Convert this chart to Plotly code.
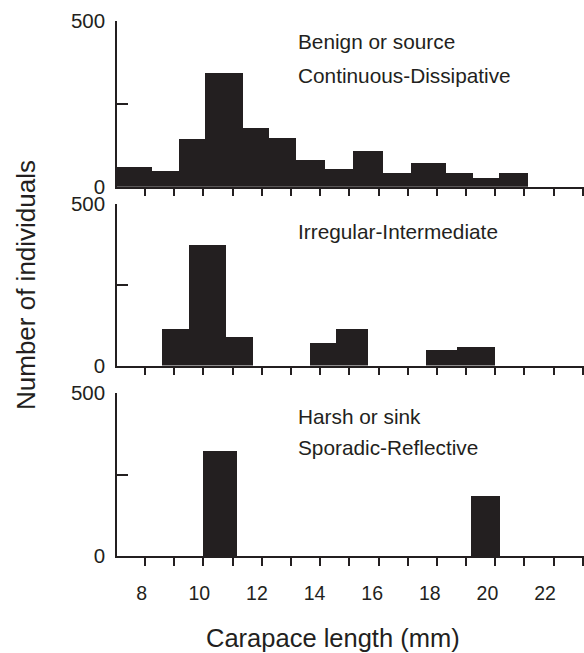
import plotly.graph_objects as go

INK = "#231f20"
FONT = "Liberation Sans, Arial, Helvetica, sans-serif"

# ---- data (bin edges in mm, counts of individuals) ----
top_left = [7.04, 8.24, 9.16, 10.05, 11.36, 12.25, 13.17, 14.16, 15.12, 16.15, 17.11, 18.31, 19.23, 20.12]
top_right = [8.24, 9.16, 10.05, 11.36, 12.25, 13.17, 14.16, 15.12, 16.15, 17.11, 18.31, 19.23, 20.12, 21.12]
top_counts = [60, 47, 144, 343, 178, 148, 80, 53, 107, 41, 71, 41, 26, 41]

mid_left = [8.58, 9.51, 10.77, 13.65, 14.54, 17.62, 18.68]
mid_right = [9.51, 10.77, 11.70, 14.54, 15.64, 18.68, 19.99]
mid_counts = [112, 373, 87, 71, 112, 47, 56]

bot_left = [9.99, 19.16]
bot_right = [11.14, 20.16]
bot_counts = [322, 184]

x_ticks = list(range(8, 24))
x_labels = [8, 10, 12, 14, 16, 18, 20, 22]
y_ticks = [0, 250, 500]
y_ticktext = ["0", "", "500"]

top_text = ["Benign or source", "Continuous-Dissipative"]
mid_text = ["Irregular-Intermediate"]
bot_text = ["Harsh or sink", "Sporadic-Reflective"]

# ---- geometry ----
W, H = 584, 653
ML, MR, MT, MB = 117, 0, 20, 97
x_range = [7.04, 23.04]
label_range = [7.143, 23.352]

fig = go.Figure()

def add_bars(lefts, rights, counts, xa, ya):
    centers = [(l + r) / 2 for l, r in zip(lefts, rights)]
    widths = [r - l for l, r in zip(lefts, rights)]
    fig.add_trace(go.Bar(x=centers, y=counts, width=widths, xaxis=xa, yaxis=ya,
                         marker=dict(color=INK, line=dict(width=0)),
                         showlegend=False, hoverinfo="skip"))

add_bars(top_left, top_right, top_counts, "x", "y")
add_bars(mid_left, mid_right, mid_counts, "x2", "y2")
add_bars(bot_left, bot_right, bot_counts, "x3", "y3")
# invisible trace to carry the tick-label axis
fig.add_trace(go.Scatter(x=[x_labels[0]], y=[0], xaxis="x4", yaxis="y3", mode="markers",
                         marker=dict(opacity=0), showlegend=False, hoverinfo="skip"))

ph = H - MT - MB
def frac(py):
    return (H - MB - py) / ph

domains = {
    "": [frac(186.7), frac(20.7)],
    "2": [frac(365.5), frac(204)],
    "3": [0, frac(393.3)],
}

xcommon = dict(range=x_range, tickmode="array", tickvals=x_ticks, showticklabels=False,
               ticks="outside", ticklen=8, tickwidth=1.5, tickcolor=INK,
               showline=True, linecolor=INK, linewidth=1.5, showgrid=False, zeroline=False,
               fixedrange=True)
ycommon = dict(range=[0, 500], tickmode="array", tickvals=y_ticks, ticktext=y_ticktext,
               ticks="inside", ticklen=11, tickwidth=1.5, tickcolor=INK,
               showline=True, linecolor=INK, linewidth=1.5, showgrid=False, zeroline=False,
               tickfont=dict(family=FONT, size=20.5, color=INK), ticklabelstandoff=6,
               fixedrange=True)

layout = dict(
    width=W, height=H, autosize=False,
    margin=dict(l=ML, r=MR, t=MT, b=MB, pad=0),
    paper_bgcolor="white", plot_bgcolor="white",
    bargap=0, barmode="overlay",
    font=dict(family=FONT, color=INK),
)
for s, dom in domains.items():
    layout["xaxis" + s] = dict(xcommon, anchor="y" + s, domain=[0, 1])
    layout["yaxis" + s] = dict(ycommon, anchor="x" + s, domain=dom)
layout["xaxis4"] = dict(range=label_range, overlaying="x3", anchor="y3", side="bottom",
                        tickmode="array", tickvals=x_labels, ticks="", showline=False,
                        showgrid=False, zeroline=False, ticklabelstandoff=23,
                        tickfont=dict(family=FONT, size=19.5, color=INK), fixedrange=True)

fig.update_layout(**layout)

def px_x(px):
    return (px - ML) / (W - ML - MR)

annots = []
def text(t, px, py, size=20.8, **kw):
    annots.append(dict(text=t, x=px_x(px), y=frac(py), xref="paper", yref="paper",
                       showarrow=False, font=dict(family=FONT, size=size, color=INK), **kw))

text(top_text[0], 296, 41.3, xanchor="left", yanchor="middle")
text(top_text[1], 296, 75, xanchor="left", yanchor="middle")
text(mid_text[0], 296, 231.7, xanchor="left", yanchor="middle")
text(bot_text[0], 296, 416, xanchor="left", yanchor="middle")
text(bot_text[1], 296, 447.3, xanchor="left", yanchor="middle")
text("Number of individuals", 26, 285, size=26, textangle=-90, xanchor="center", yanchor="middle")
text("Carapace length (mm)", 333, 638, size=25.5, xanchor="center", yanchor="middle")
fig.update_layout(annotations=annots)

fig.write_html("out.html", config={"displayModeBar": False},
               post_script="document.body.style.margin='0px';document.body.style.overflow='hidden';")
